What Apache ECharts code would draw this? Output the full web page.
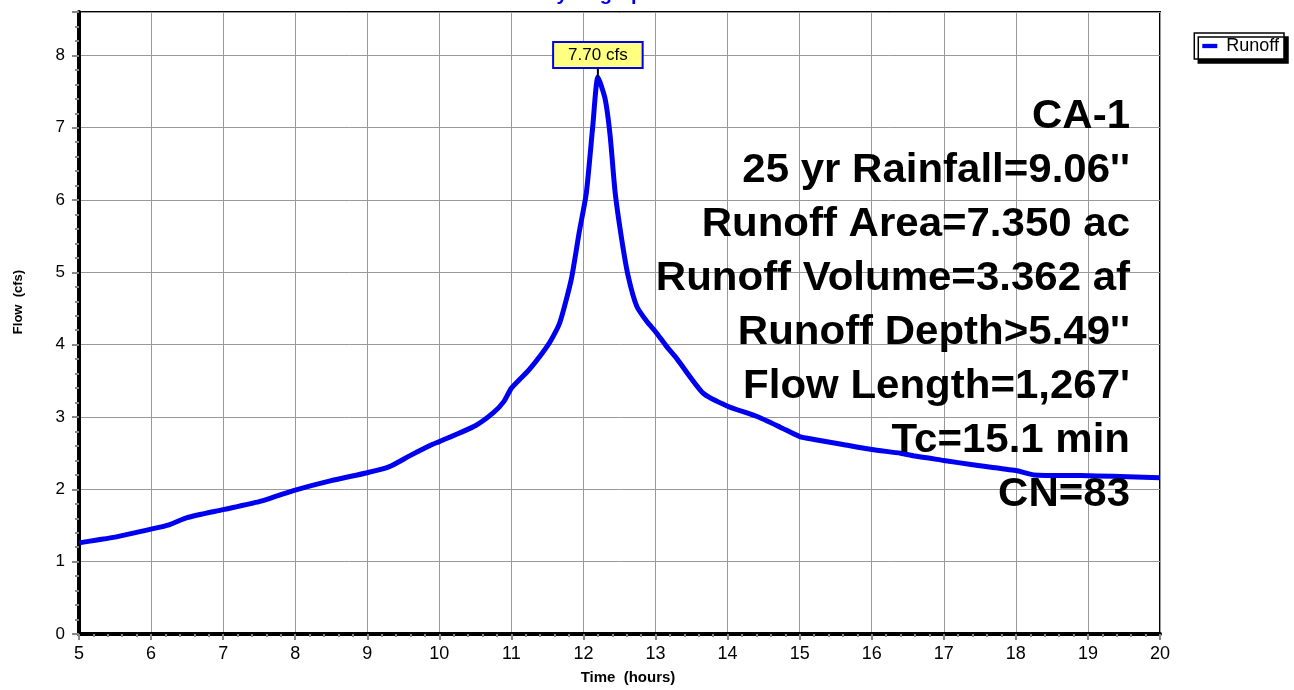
<!DOCTYPE html>
<html>
<head>
<meta charset="utf-8">
<title>Hydrograph</title>
<script src="https://cdn.jsdelivr.net/npm/echarts@6/dist/echarts.min.js"></script>
<style>
  html, body { margin: 0; padding: 0; background: #fff; }
  #mainECharts { width: 1294px; height: 690px; }
</style>
</head>
<body>
<div id="mainECharts"></div>
<script>
// hydrograph: time (hours) and flow (cfs)
var hours = [5, 5.25, 5.5, 6, 6.25, 6.5, 7, 7.5, 7.75, 8, 8.5, 9, 9.3, 9.6, 9.9, 10, 10.5, 10.75, 10.9, 11,
  11.25, 11.53, 11.67, 11.83, 11.94, 12.04, 12.13, 12.2, 12.3, 12.37, 12.44, 12.53, 12.62, 12.74, 12.88,
  13.0, 13.15, 13.3, 13.66, 14, 14.4, 14.73, 15, 15.2, 15.6, 16, 16.4, 16.6, 17, 17.4, 18, 18.25, 18.9, 19.35, 20];
var flow = [1.26, 1.30, 1.34, 1.45, 1.51, 1.61, 1.72, 1.83, 1.91, 1.99, 2.12, 2.23, 2.31, 2.47, 2.62, 2.66, 2.88, 3.06, 3.22, 3.40,
  3.66, 4.03, 4.30, 4.90, 5.55, 6.10, 7.03, 7.70, 7.40, 6.89, 6.10, 5.46, 4.95, 4.53, 4.32,
  4.18, 3.98, 3.80, 3.33, 3.15, 3.01, 2.86, 2.73, 2.69, 2.62, 2.55, 2.50, 2.46, 2.40, 2.34, 2.26, 2.20, 2.19, 2.18, 2.16];
var peak = [12.2, 7.70];
var infoLines = ['CA-1', '25 yr Rainfall=9.06\'\'', 'Runoff Area=7.350 ac', 'Runoff Volume=3.362 af',
  'Runoff Depth>5.49\'\'', 'Flow Length=1,267\'', 'Tc=15.1 min', 'CN=83'];

var FONT = '"Liberation Sans", Arial, sans-serif';

var myChart = echarts.init(document.getElementById('mainECharts'));

var seriesData = hours.map(function (h, i) { return [h, flow[i]]; });

option = {
  animation: false,
  backgroundColor: '#fff',
  grid: {
    left: 79, right: 134, top: 12, bottom: 56,
    show: true, borderColor: '#000', borderWidth: 2
  },
  legend: {
    data: ['Runoff'],
    right: 10, top: 33,
    icon: 'path://M0,0h14v4h-14z',
    itemWidth: 15, itemHeight: 14, itemGap: 4,
    padding: [4, 5, 4, 8],
    backgroundColor: '#fff', borderColor: '#000', borderWidth: 1.5,
    shadowColor: '#000', shadowBlur: 0, shadowOffsetX: 4, shadowOffsetY: 4,
    textStyle: { color: '#000', fontSize: 18, fontFamily: FONT, padding: [0, 0, 0, 4] }
  },
  xAxis: {
    type: 'value', min: 5, max: 20, interval: 1,
    axisLine: { lineStyle: { color: '#000', width: 4 } },
    axisTick: { length: 6, lineStyle: { color: '#888', width: 2 } },
    minorTick: { show: true, splitNumber: 5, length: 3, lineStyle: { color: '#888', width: 2 } },
    splitLine: { show: true, lineStyle: { color: '#999', width: 1 } },
    axisLabel: { color: '#000', fontSize: 18, fontFamily: FONT, margin: 11 }
  },
  yAxis: {
    type: 'value', min: 0, max: 8.6, interval: 1,
    axisLine: { show: true, lineStyle: { color: '#000', width: 4 } },
    axisTick: { show: true, length: 7, lineStyle: { color: '#888', width: 2 } },
    minorTick: { show: true, splitNumber: 5, length: 4, lineStyle: { color: '#888', width: 2 } },
    splitLine: { show: true, lineStyle: { color: '#999', width: 1 } },
    axisLabel: { color: '#000', fontSize: 17, fontFamily: FONT, margin: 14, showMaxLabel: false }
  },
  graphic: [
    {
      type: 'text', left: 542, top: -16,
      style: { text: 'Hydrograph', fill: '#0000e0', font: 'bold 20px ' + FONT }
    },
    {
      type: 'text', x: 18, y: 302, rotation: Math.PI / 2,
      style: { text: 'Flow  (cfs)', fill: '#000', font: 'bold 13px ' + FONT, align: 'center', verticalAlign: 'middle' }
    },
    {
      type: 'text', x: 628, y: 678,
      style: { text: 'Time  (hours)', fill: '#000', font: 'bold 15px ' + FONT, align: 'center', verticalAlign: 'middle' }
    },
    {
      type: 'text', x: 1130, y: 90, z: 100, scaleX: 1.05,
      style: {
        text: infoLines.join('\n'), fill: '#000', font: 'bold 40px ' + FONT,
        lineHeight: 54, align: 'right', verticalAlign: 'top'
      }
    }
  ],
  series: [
    {
      name: 'Runoff',
      type: 'line',
      data: seriesData,
      symbol: 'none',
      smooth: 0.2,
      color: '#0000f0',
      lineStyle: { color: '#0000f0', width: 5, join: 'round' },
      markPoint: {
        symbol: 'rect',
        symbolSize: [2, 10],
        symbolOffset: [0, -5],
        itemStyle: { color: '#000' },
        label: {
          show: true, position: 'top', distance: 0,
          formatter: '7.70 cfs',
          color: '#000', fontSize: 17, fontFamily: FONT,
          backgroundColor: '#ffff80', borderColor: '#0000e0', borderWidth: 2,
          padding: [4, 14, 3, 14]
        },
        data: [{ coord: peak }]
      }
    }
  ]
};

option && myChart.setOption(option);
</script>
</body>
</html>
